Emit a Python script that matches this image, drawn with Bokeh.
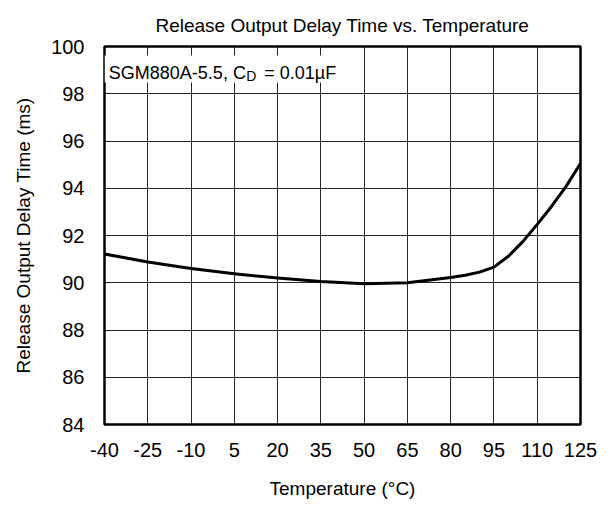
from bokeh.plotting import figure
from bokeh.models import Range1d, FixedTicker, BoxAnnotation, Label
from bokeh.embed import file_html
from bokeh.resources import INLINE

# Data
temperature = [-40, -25, -10, 5, 20, 35, 50, 65, 80, 85, 90, 95, 100, 105, 110, 115, 120, 125]
delay_ms = [91.22, 90.88, 90.60, 90.38, 90.20, 90.05, 89.96, 90.00, 90.22, 90.32, 90.45, 90.66,
            91.12, 91.74, 92.47, 93.24, 94.08, 95.05]
x_ticks = [-40, -25, -10, 5, 20, 35, 50, 65, 80, 95, 110, 125]
y_ticks = [84, 86, 88, 90, 92, 94, 96, 98, 100]
title_text = "Release Output Delay Time vs. Temperature"

FONT = "Liberation Sans"

p = figure(width=608, height=504, output_backend="svg", toolbar_location=None,
           x_range=Range1d(-40, 125), y_range=Range1d(84, 100),
           min_border_left=104, min_border_right=28, min_border_top=46, min_border_bottom=80,
           title=title_text)
p.background_fill_color = "white"
p.border_fill_color = "white"
p.outline_line_color = "black"
p.outline_line_width = 2.5

p.title.align = "center"
p.title.text_font = FONT
p.title.text_font_size = "19px"
p.title.text_font_style = "normal"
p.title.text_color = "black"
p.title.standoff = 22

for ax in (p.xaxis[0], p.yaxis[0]):
    ax.axis_line_color = None
    ax.major_tick_in = 0
    ax.major_tick_out = 0
    ax.minor_tick_in = 0
    ax.minor_tick_out = 0
    ax.major_label_text_font = FONT
    ax.major_label_text_font_size = "20px"
    ax.major_label_text_color = "black"
    ax.axis_label_text_font = FONT
    ax.axis_label_text_font_size = "19px"
    ax.axis_label_text_font_style = "normal"
    ax.axis_label_text_color = "black"

p.xaxis.ticker = FixedTicker(ticks=x_ticks)
p.yaxis.ticker = FixedTicker(ticks=y_ticks)
p.xaxis.major_label_overrides = {t: str(t) for t in x_ticks}
p.yaxis.major_label_overrides = {t: str(t) for t in y_ticks}
p.xaxis.axis_label = "Temperature (°C)"
p.yaxis.axis_label = "Release Output Delay Time (ms)"
p.xaxis.major_label_standoff = 18
p.xaxis.axis_label_standoff = 18
p.yaxis.major_label_standoff = 20
p.yaxis.axis_label_standoff = 14

p.xgrid.grid_line_color = "black"
p.ygrid.grid_line_color = "black"
p.xgrid.grid_line_alpha = 0.85
p.ygrid.grid_line_alpha = 0.85
p.xgrid.grid_line_width = 1
p.ygrid.grid_line_width = 1

# white box behind the annotation text
box = BoxAnnotation(left=-40, right=43.5, bottom=98.48, top=99.62,
                    fill_color="white", fill_alpha=1.0, line_color=None, level="underlay")
p.add_layout(box)

p.line(temperature, delay_ms, line_color="black", line_width=3, line_join="round")

lab1 = Label(x=-38.5, y=98.88, text="SGM880A-5.5, C", text_font=FONT, text_font_size="18px",
             text_color="black", text_baseline="alphabetic", text_align="left")
lab2 = Label(x=9.1, y=98.75, text="D", text_font=FONT, text_font_size="14px",
             text_color="black", text_baseline="alphabetic", text_align="left")
lab3 = Label(x=15.4, y=98.88, text="= 0.01µF", text_font=FONT, text_font_size="18px",
             text_color="black", text_baseline="alphabetic", text_align="left")
for l in (lab1, lab2, lab3):
    p.add_layout(l)

open("out.html", "w").write(file_html(p, INLINE))
